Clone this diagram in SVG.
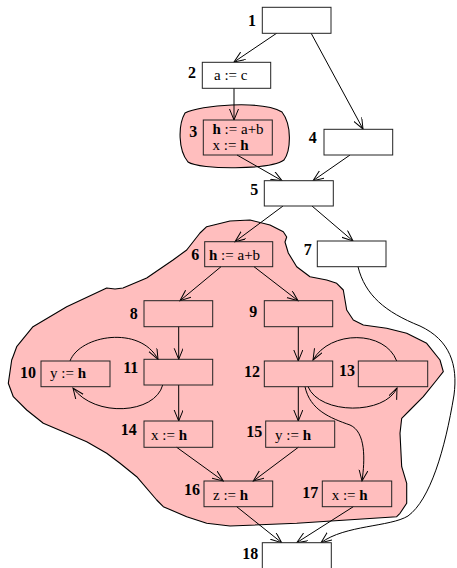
<svg xmlns="http://www.w3.org/2000/svg" width="457" height="568" viewBox="0 0 457 568">
<style>
.blob{fill:#ffbebe;stroke:#000;stroke-width:1.1;stroke-linejoin:round}
.box{fill:#fff;stroke:#222;stroke-width:1}
.pbox{fill:none;stroke:#222;stroke-width:1}
.lbl{font-family:"Liberation Serif",serif;font-weight:bold;font-size:16px;text-anchor:end;fill:#000}
.txt{font-family:"Liberation Serif",serif;font-size:15px;fill:#000}
.b{font-weight:bold}
.e{fill:none;stroke:#000;stroke-width:1;marker-end:url(#arr)}
</style>
<defs>
<marker id="arr" viewBox="0 0 12 10" refX="11" refY="4.5" markerWidth="12" markerHeight="10" markerUnits="userSpaceOnUse" orient="auto">
<path d="M0,0 L11,4.5 L0,9" fill="none" stroke="#000" stroke-width="1"/>
</marker>
</defs>
<g id="regions">
<path class="blob" d="M185,113 C200,105 262,100 282,112 C292,125 291,150 284,160 C270,170 200,170 188,162 C178,150 178,125 185,113 Z"/>
<path class="blob" d="M206.7,226.7 L230,221 L250,220 L270,225 L283.3,231.7 L286.7,237 L285,242 L288.3,253 L296.7,266.7 L310,276.7 L326.7,280 L336.7,283.3 L343.3,290 L345,300 L346.7,310 L353.3,320 L363.3,325 L386.7,328.3 L406.7,333.3 L426.7,343.3 L440,360 L443.3,371.7 L436.7,380 L423.3,396.7 L410,410 L401.7,418.3 L400,433.3 L401.7,466.7 L406.7,483.3 L406.7,503.3 L400,513.3 L396.7,516.7 L346.7,520 L296.7,523.3 L230,526 L206.7,523.3 L186.7,516.7 L163.3,506.7 L156.7,500 L136.7,476.7 L120,463.3 L106.7,453.3 L86.7,441.7 L63.3,431.7 L43.3,423.3 L26.7,410 L13.3,396.7 L8.3,383.3 L11.7,360 L13,356.7 L16.7,346.7 L33,326.7 L66.7,306.7 L106.7,288 L115,289 L123,288 L146.7,278 L173,260 L186.7,250 L200,233 Z"/>
</g>
<g id="connectors">
<path class="e" d="M277,33 L234,62"/>
<path class="e" d="M311,33 L363,129"/>
<path class="e" d="M234,88 L234,120"/>
<path class="e" d="M237,155 L282,180.7"/>
<path class="e" d="M350,155 L313,180.7"/>
<path class="e" d="M283,206 L235,241.7"/>
<path class="e" d="M312,206 L353,241"/>
<path class="e" d="M221,266.7 L180,300.7"/>
<path class="e" d="M254,266.7 L298,300.7"/>
<path class="e" d="M178.7,326.7 L178.7,359.3"/>
<path class="e" d="M298.3,326.7 L298.3,361"/>
<path class="e" d="M70,361 C80,335 140,325 158,359.3"/>
<path class="e" d="M162.7,385 C155,414 95,418 73,388"/>
<path class="e" d="M396.7,361 C385,330 330,330 313,360"/>
<path class="e" d="M308,386.7 C320,415 385,415 397,388"/>
<path class="e" d="M298.3,386.7 L298.3,421"/>
<path class="e" d="M305,386.7 C310,410 330,418 350,425 C366,432 365,460 362,481"/>
<path class="e" d="M178.7,385 L178.7,421"/>
<path class="e" d="M176.7,447.3 L223.3,481"/>
<path class="e" d="M298.3,447.3 L253.3,481"/>
<path class="e" d="M236.7,506.7 L281.7,542.7"/>
<path class="e" d="M353.3,506.7 L296.7,542.7"/>
<path class="e" d="M358,266.7 C365,295 385,312 420,326 C450,340 458,365 454,395 C445,450 430,500 408,516 C390,527 345,525 321,542.7"/>
</g>
<g id="n1"><rect class="box" x="262.3" y="7.3" width="68.7" height="26"/><text class="lbl" x="256" y="26">1</text></g>
<g id="n2"><rect class="box" x="202.3" y="62.3" width="68.4" height="26"/><text class="lbl" x="196" y="78">2</text><text class="txt" x="214" y="80">a := c</text></g>
<g id="n3"><rect class="pbox" x="203.3" y="120" width="69" height="35"/><text class="lbl" x="197.3" y="137">3</text><text class="txt" x="212.5" y="133.5"><tspan class="b">h</tspan> := a+b</text><text class="txt" x="212.5" y="150">x := <tspan class="b">h</tspan></text></g>
<g id="n4"><rect class="box" x="324" y="129.3" width="68.7" height="25.7"/><text class="lbl" x="316.7" y="143">4</text></g>
<g id="n5"><rect class="box" x="264.3" y="180.7" width="69" height="25.3"/><text class="lbl" x="258.3" y="195">5</text></g>
<g id="n6"><rect class="pbox" x="204.7" y="241.7" width="68" height="25"/><text class="lbl" x="199.3" y="260">6</text><text class="txt" x="209" y="259.5"><tspan class="b">h</tspan> := a+b</text></g>
<g id="n7"><rect class="box" x="317.3" y="241" width="68.7" height="25.7"/><text class="lbl" x="311.7" y="255">7</text></g>
<g id="n8"><rect class="pbox" x="144" y="300.7" width="68.7" height="26"/><text class="lbl" x="137.7" y="319">8</text></g>
<g id="n9"><rect class="pbox" x="264.3" y="300.7" width="68.4" height="26"/><text class="lbl" x="257.3" y="317">9</text></g>
<g id="n10"><rect class="pbox" x="41" y="361" width="69" height="25.7"/><text class="lbl" x="36" y="378.3">10</text><text class="txt" x="50" y="378">y := <tspan class="b">h</tspan></text></g>
<g id="n11"><rect class="pbox" x="144" y="359.3" width="68.7" height="25.7"/><text class="lbl" x="138.3" y="373.3">11</text></g>
<g id="n12"><rect class="pbox" x="264.3" y="361" width="68.4" height="25.7"/><text class="lbl" x="260" y="376.7">12</text></g>
<g id="n13"><rect class="pbox" x="358.3" y="361" width="69.4" height="25.7"/><text class="lbl" x="355" y="376">13</text></g>
<g id="n14"><rect class="pbox" x="144" y="421" width="68.7" height="26.3"/><text class="lbl" x="136.7" y="435">14</text><text class="txt" x="151" y="440">x := <tspan class="b">h</tspan></text></g>
<g id="n15"><rect class="pbox" x="265.7" y="421" width="69" height="26.3"/><text class="lbl" x="262.3" y="437.3">15</text><text class="txt" x="275" y="440">y := <tspan class="b">h</tspan></text></g>
<g id="n16"><rect class="pbox" x="204" y="481" width="68.7" height="25.7"/><text class="lbl" x="200" y="495">16</text><text class="txt" x="213" y="500">z := <tspan class="b">h</tspan></text></g>
<g id="n17"><rect class="pbox" x="322.3" y="481" width="69.4" height="25.7"/><text class="lbl" x="318.3" y="498.3">17</text><text class="txt" x="331.7" y="500">x := <tspan class="b">h</tspan></text></g>
<g id="n18"><rect class="box" x="262.3" y="542.7" width="69" height="30"/><text class="lbl" x="258.3" y="559.3">18</text></g>
</svg>
